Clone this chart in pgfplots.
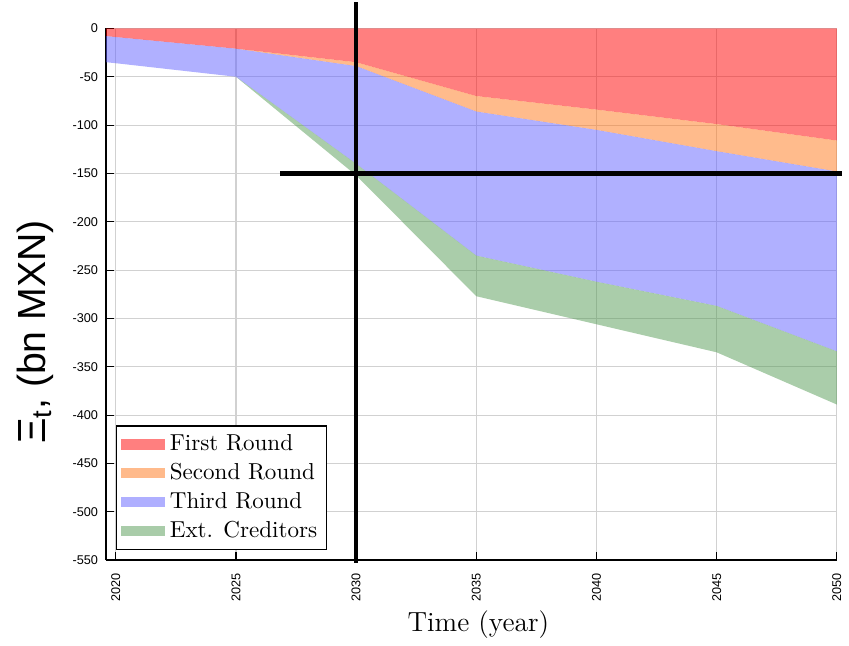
\documentclass[border=0pt]{standalone}
\usepackage{fontspec}
\setsansfont{Liberation Sans}
\usepackage{pgfplots}
\pgfplotsset{compat=1.18}
\definecolor{cR}{RGB}{255,0,0}
\definecolor{cO}{RGB}{255,119,25}
\definecolor{cB}{RGB}{97,97,255}
\definecolor{cG}{RGB}{85,155,85}
\pgfplotsset{every non boxed x axis/.style={}, every non boxed y axis/.style={}}
\begin{document}
\begin{tikzpicture}
\begin{axis}[
  scale only axis, width=316.7pt, height=230.5pt,
  xmin=2019.6, xmax=2050, ymin=-550, ymax=0,
  axis lines=left, axis line style={-, black, line width=0.6pt},
  tick align=inside, major tick length=3.5pt,
  tick style={black, line width=0.5pt},
  clip=false,
  grid=major, major grid style={black!18, line width=0.5pt},
  xtick={2020,2025,2030,2035,2040,2045,2050},
  xticklabels={2020,2025,2030,2035,2040,2045,2050},
  ytick={-550,-500,-450,-400,-350,-300,-250,-200,-150,-100,-50,0},
  yticklabels={-550,-500,-450,-400,-350,-300,-250,-200,-150,-100,-50,0},
  xticklabel shift=2pt,
  x tick label style={rotate=90, anchor=east, font=\sffamily\fontsize{5.5}{6}\selectfont},
  y tick label style={font=\sffamily\fontsize{5.5}{6}\selectfont},
  xlabel={Time (year)}, xlabel style={font=\large, xshift=3pt, yshift=2.8pt},
  ylabel={Ξ\textsubscript{t}, (bn MXN)},
  ylabel style={font=\sffamily\fontsize{17}{20}\selectfont, at={(rel axis cs:-0.0964,0.429)}, anchor=center},
  legend style={at={(0.0136,0.0187)}, anchor=south west, draw=black, line width=0.6pt,
    font=\normalsize, inner xsep=2pt, inner ysep=1.8pt},
  legend cell align=left,
  legend image code/.code={\fill[#1] (0pt,-2.2pt) rectangle (19pt,2.2pt);},
]
\addplot[fill=cR, fill opacity=0.5, draw=none] coordinates {
 (2019.6,0) (2050,0) (2050,-116) (2045,-99) (2040,-84) (2035,-70) (2030,-35) (2025,-21) (2020,-9) (2019.6,-8)};
\addlegendentry{First Round}
\addplot[fill=cO, fill opacity=0.5, draw=none] coordinates {
 (2025,-21) (2030,-35) (2035,-70) (2040,-84) (2045,-99) (2050,-116)
 (2050,-148) (2045,-127) (2040,-105) (2035,-86) (2030,-39)};
\addlegendentry{Second Round}
\addplot[fill=cB, fill opacity=0.5, draw=none] coordinates {
 (2019.6,-8) (2020,-9) (2025,-21) (2030,-39) (2035,-86) (2040,-105) (2045,-127) (2050,-148)
 (2050,-334) (2045,-287) (2040,-262) (2035,-235) (2030,-140) (2025,-50) (2020,-36) (2019.6,-35)};
\addlegendentry{Third Round}
\addplot[fill=cG, fill opacity=0.5, draw=none] coordinates {
 (2025,-50) (2030,-140) (2035,-235) (2040,-262) (2045,-287) (2050,-334)
 (2050,-389) (2045,-335) (2040,-306) (2035,-277) (2030,-152)};
\addlegendentry{Ext. Creditors}
\addplot[black, line width=2pt, forget plot] coordinates {(2030,27) (2030,-553)};
\addplot[black, line width=2pt, forget plot] coordinates {(2026.84,-150) (2050.23,-150)};
\path (rel axis cs:-0.1453,1.0485) rectangle (rel axis cs:1.0075,-0.1325);
\end{axis}
\end{tikzpicture}
\end{document}
